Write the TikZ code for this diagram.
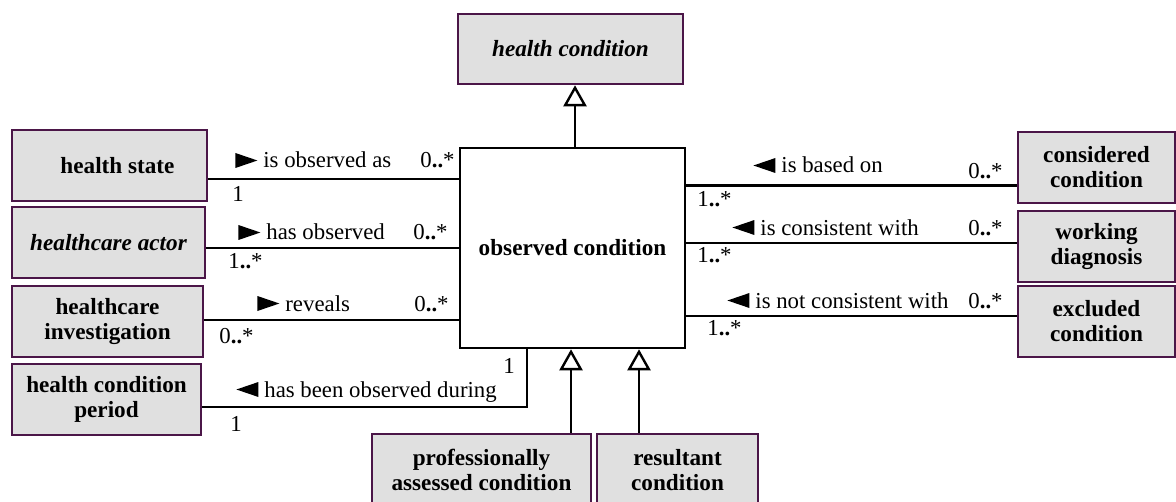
\documentclass[tikz,border=0pt]{standalone}
\usepackage{fontspec}
\setmainfont{Liberation Serif}
\usetikzlibrary{arrows.meta}
\definecolor{boxborder}{RGB}{75,22,72}
\definecolor{boxfill}{RGB}{224,224,224}

% reading-direction triangles in front of association names
\newcommand{\fwd}{\tikz[baseline=0pt]\fill (0pt,0pt) -- (0pt,7.5pt) -- (11pt,3.75pt) -- cycle;\hspace{3pt}}
\newcommand{\bwd}{\tikz[baseline=0pt]\fill (11pt,0pt) -- (11pt,7.5pt) -- (0pt,3.75pt) -- cycle;\hspace{3pt}}
% multiplicity "n..*"
\newcommand{\mult}[1]{#1{\bfseries..}*}

\begin{document}
\begin{tikzpicture}[x=0.5pt,y=-0.5pt,
  font=\fontsize{11.4}{14}\selectfont,
  cls/.style={draw=boxborder, line width=1.3pt, fill=boxfill, align=center,
    inner sep=0pt, font=\fontsize{11.6}{12.5}\selectfont\bfseries},
  core/.style={draw=black, line width=1.3pt, fill=white, align=center,
    inner sep=0pt, font=\fontsize{11.6}{12.5}\selectfont\bfseries},
  assoc/.style={line width=1.2pt},
  gen/.style={line width=1.2pt, -{Triangle[open, length=10.5pt, width=11.5pt]}},
  lbl/.style={inner sep=0pt, anchor=base west}]
\useasboundingbox (0,0) rectangle (1176,502);

% classes
\node[cls, font=\fontsize{11.6}{12.5}\selectfont\bfseries\itshape,
  minimum width=112.5pt, minimum height=35pt] (hc) at (570.5,49) {health condition};
\node[core, minimum width=112.5pt, minimum height=100pt] (obs) at (572.5,248) {observed condition};

\node[cls, minimum width=97.5pt, minimum height=35.5pt] (hs) at (109.5,165.5) {\hspace{8pt}health state};
\node[cls, font=\fontsize{11.6}{12.5}\selectfont\bfseries\itshape,
  minimum width=96.5pt, minimum height=35.5pt] (ha) at (108.5,242.5) {healthcare actor};
\node[cls, minimum width=95.5pt, minimum height=35.5pt] (hi) at (107.5,321.5) {healthcare\\investigation};
\node[cls, minimum width=94.5pt, minimum height=35.5pt] (hcp) at (106.5,399.5) {health condition\\period};

\node[cls, minimum width=78.5pt, minimum height=35.5pt] (cc) at (1096.5,167.5) {considered\\condition};
\node[cls, minimum width=78.5pt, minimum height=35.5pt] (wd) at (1096.5,246.5) {working\\diagnosis};
\node[cls, minimum width=78.5pt, minimum height=35.5pt] (ec) at (1096.5,321.5) {excluded\\condition};

\node[cls, minimum width=109.5pt, minimum height=36pt] (pac) at (481.5,470) {professionally\\assessed condition};
\node[cls, minimum width=80.5pt, minimum height=36pt] (rc) at (677.5,470) {resultant\\condition};

% connector positions
\coordinate (gx) at (575,0);
\coordinate (px) at (571,0);
\coordinate (rx) at (639,0);
\coordinate (dx) at (527,0);
\coordinate (l1) at (0,179);
\coordinate (l2) at (0,248);
\coordinate (l3) at (0,320);
\coordinate (l4) at (0,407);
\coordinate (r1) at (0,185.5);
\coordinate (r2) at (0,243);
\coordinate (r3) at (0,316);

% generalizations
\draw[gen] (obs.north -| gx) -- (hc.south -| gx);
\draw[gen] (pac.north -| px) -- (obs.south -| px);
\draw[gen] (rc.north -| rx) -- (obs.south -| rx);

% associations
\draw[assoc] (hs.east |- l1) -- (obs.west |- l1);
\draw[assoc] (ha.east |- l2) -- (obs.west |- l2);
\draw[assoc] (hi.east |- l3) -- (obs.west |- l3);
\draw[assoc] (hcp.east |- l4) -| (obs.south -| dx);
\draw[assoc] (obs.east |- r1) -- (cc.west |- r1);
\draw[assoc] (obs.east |- r2) -- (wd.west |- r2);
\draw[assoc] (obs.east |- r3) -- (ec.west |- r3);

% association names and multiplicities
\node[lbl] (n1) at (235,168) {\fwd is observed as};
\node[lbl] (m1a) at (420,168) {\mult0};
\node[lbl] (m1b) at (232,202) {1};

\node[lbl] (n2) at (238,240) {\fwd has observed};
\node[lbl] (m2a) at (413,240) {\mult0};
\node[lbl] (m2b) at (228,268) {\mult1};

\node[lbl] (n3) at (257,311) {\fwd reveals};
\node[lbl] (m3a) at (414,311) {\mult0};
\node[lbl] (m3b) at (219,343) {\mult0};

\node[lbl] (n4) at (236,397) {\bwd has been observed during};
\node[lbl] (m4a) at (503,373) {1};
\node[lbl] (m4b) at (230,431) {1};

\node[lbl] (n5) at (753,173) {\bwd is based on};
\node[lbl] (m5a) at (968,179) {\mult0};
\node[lbl] (m5b) at (697,206) {\mult1};

\node[lbl] (n6) at (732,235) {\bwd is consistent with};
\node[lbl] (m6a) at (968,235) {\mult0};
\node[lbl] (m6b) at (697,262) {\mult1};

\node[lbl] (n7) at (727,308) {\bwd is not consistent with};
\node[lbl] (m7a) at (968,308) {\mult0};
\node[lbl] (m7b) at (707,335) {\mult1};
\end{tikzpicture}
\end{document}
